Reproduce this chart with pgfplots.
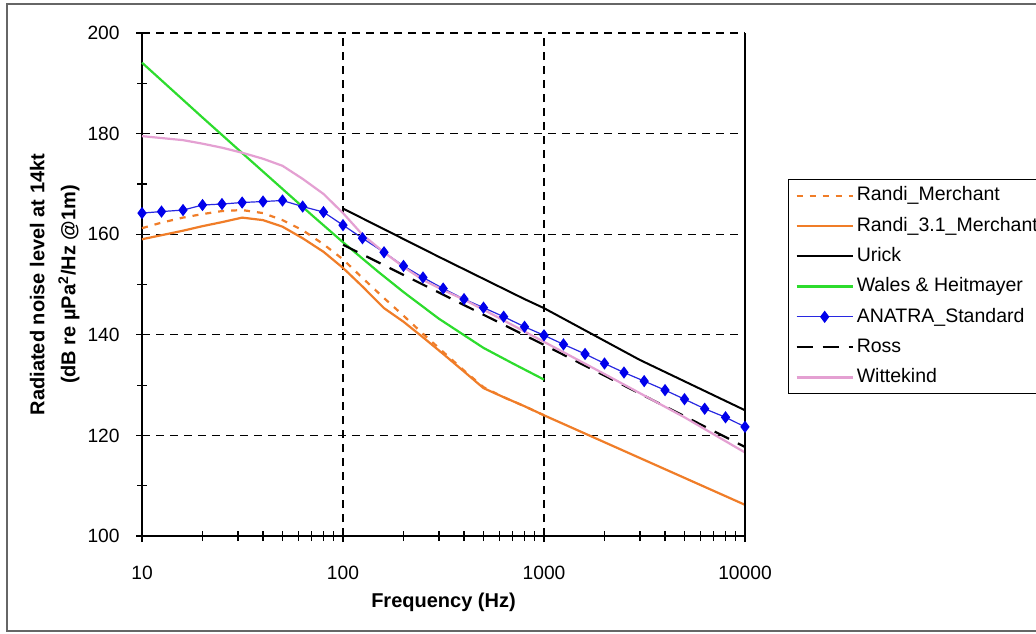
\documentclass[border=0pt]{standalone}
\usepackage{pgfplots}
\pgfplotsset{compat=1.18}
\usepackage{fontspec}
\setmainfont{Liberation Sans}
\definecolor{cOrange}{RGB}{240,125,40}
\definecolor{cGreen}{RGB}{45,220,45}
\definecolor{cBlue}{RGB}{40,40,225}
\definecolor{cBlueM}{RGB}{0,0,235}
\definecolor{cPink}{RGB}{228,160,210}
\begin{document}
\begin{tikzpicture}
\useasboundingbox (0,0) rectangle (518pt,-316.5pt);
\fill[white] (0,0) rectangle (518pt,-316.5pt);
\draw[line width=1pt, black!60] (530pt,-2pt) -- (3.3pt,-2pt) -- (3.3pt,-315.3pt) -- (530pt,-315.3pt);
\begin{axis}[
  at={(71pt,-268pt)}, anchor=south west,
  scale only axis, width=301.5pt, height=251.5pt,
  xmode=log, xmin=10, xmax=10000, ymin=100, ymax=200,
  axis x line=bottom, axis y line=left,
  axis line style={-, line width=0.8pt, black},
  clip=false,
  xtick={10,100,1000,10000}, xticklabels={10,100,1000,10000},
  minor xtick={20,30,40,50,60,70,80,90,200,300,400,500,600,700,800,900,2000,3000,4000,5000,6000,7000,8000,9000},
  ytick={100,120,140,160,180,200}, minor ytick={110,130,150,170,190},
  tick align=center, major tick length=6pt, minor tick length=5pt,
  tick style={black, line width=0.6pt},
  grid=major, major grid style={black, dash pattern=on 4pt off 3pt, line width=0.6pt},
  /pgf/number format/assume math mode=true,
  tick label style={font=\fontsize{9.6}{11}\selectfont},
  xticklabel style={anchor=base, yshift=-18.5pt},
  yticklabel style={anchor=east, inner sep=0pt, xshift=-8pt},
  xlabel={Frequency (Hz)},
  xlabel style={font=\bfseries\fontsize{10}{12}\selectfont, at={(axis description cs:0.5,-0.1412)}, anchor=base},
  ylabel={Radiated noise level at 14kt\\[3.5pt](dB re µPa\textsuperscript{2}/Hz @1m)},
  ylabel style={font=\bfseries\fontsize{10}{12}\selectfont, align=center, at={(axis description cs:-0.1028,0.5)}, anchor=south, inner sep=0pt},
  legend style={at={(axis description cs:1.0713,0.7097)}, anchor=north west, draw=black, line width=0.6pt,
    inner xsep=3.5pt, inner ysep=3.4pt, row sep=5.95pt, column sep=1.5pt,
    nodes={text height=7.2pt, text depth=2pt, inner sep=0pt, font=\fontsize{9.75}{11}\selectfont}},
  legend cell align=left,
  legend image code/.code={\draw[mark repeat=2,mark phase=2,#1] plot coordinates {(0pt,0pt) (14pt,0pt) (28pt,0pt)};},
]
\addplot[cOrange, line width=1.1pt, dash pattern=on 3pt off 3.5pt] coordinates {
(10,161.2) (12.5,162.3) (16,163.3) (20,164.0) (25,164.6) (31.5,164.8) (40,164.2) (50,162.8)
(63,160.8) (80,158.0) (100,155.0) (125,151.3) (160,147.3) (200,143.8) (250,140.2) (315,136.6)
(400,132.9) (500,129.6) (630,127.6) (800,125.8) (1000,124.0)};
\addlegendentry{Randi\_Merchant}
\addplot[cOrange, line width=1.1pt] coordinates {
(10,159.0) (12.5,159.8) (16,160.7) (20,161.6) (25,162.4) (31.5,163.3) (40,162.8) (50,161.5)
(63,159.2) (80,156.5) (100,153.3) (125,149.6) (160,145.3) (200,142.6) (250,139.5) (315,136.2)
(400,132.7) (500,129.4) (630,127.6) (800,125.8) (1000,124.0) (10000,106.2)};
\addlegendentry{Randi\_3.1\_Merchant}
\addplot[black, line width=1pt] coordinates {
(100,165.1) (300,155.5) (800,147.1) (1000,145.3) (3000,135.0) (10000,125.0)};
\addlegendentry{Urick}
\addplot[cGreen, line width=1.1pt] coordinates {
(10,194.1) (20,183.2) (30,176.9) (50,169.0) (70,163.8) (100,158.4) (150,152.5) (200,148.5)
(300,143.2) (500,137.4) (700,134.3) (1000,131.1)};
\addlegendentry{Wales \& Heitmayer}
\addplot[cBlue, line width=0.6pt, mark=diamond*, mark size=2.6pt, mark options={solid, fill=cBlueM, draw=cBlueM}] coordinates {
(10,164.2) (12.5,164.5) (16,164.8) (20,165.8) (25,166.0) (31.5,166.3) (40,166.5) (50,166.7)
(63,165.5) (80,164.4) (100,161.8) (125,159.2) (160,156.4) (200,153.7) (250,151.4) (315,149.2)
(400,147.1) (500,145.4) (630,143.6) (800,141.6) (1000,139.9) (1250,138.1) (1600,136.2) (2000,134.3)
(2500,132.5) (3150,130.8) (4000,129.0) (5000,127.2) (6300,125.3) (8000,123.6) (10000,121.7)};
\addlegendentry{ANATRA\_Standard}
\addplot[black, line width=1.1pt, dash pattern=on 8pt off 5pt] coordinates {
(100,157.9) (1000,138.0) (10000,117.7)};
\addlegendentry{Ross}
\addplot[cPink, line width=1.1pt] coordinates {
(10,179.5) (16,178.7) (20,178.0) (25,177.2) (31.5,176.2) (40,175.0) (50,173.6) (63,171.0)
(80,168.0) (100,164.2) (125,159.9) (160,156.4) (200,153.5) (250,150.9) (315,148.9) (400,147.0)
(500,145.0) (1000,138.6) (2000,132.2) (5000,123.6) (10000,116.6)};
\addlegendentry{Wittekind}
\draw[black, line width=0.8pt] (axis cs:10000,100) -- (axis cs:10000,200);
\end{axis}
\end{tikzpicture}
\end{document}
